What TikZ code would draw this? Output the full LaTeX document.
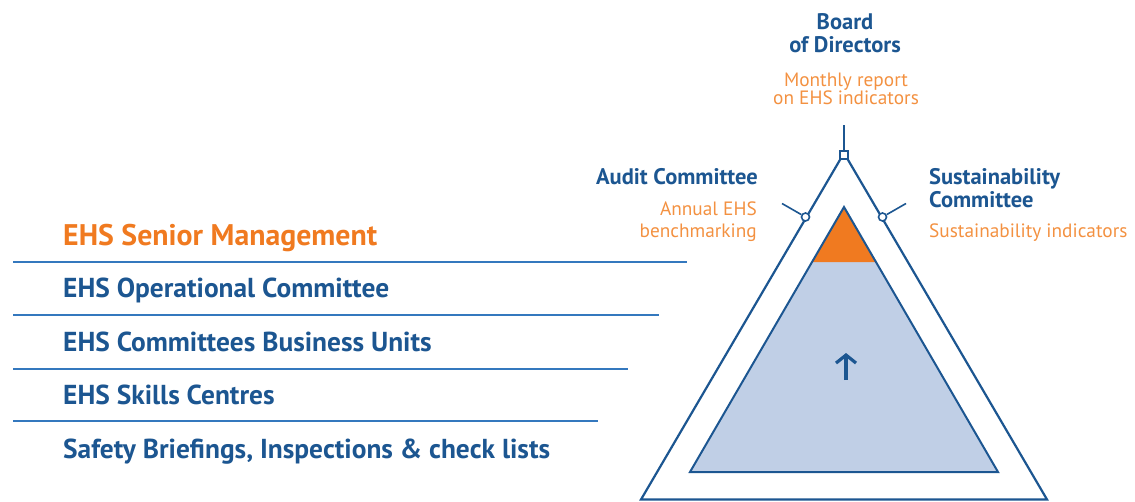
\documentclass[tikz,border=0pt]{standalone}
\usepackage{fontspec}
\setmainfont{PT Sans}
\usetikzlibrary{arrows.meta}
\definecolor{dblue}{RGB}{28,86,145}
\definecolor{lblue}{RGB}{52,120,190}
\definecolor{eorange}{RGB}{240,122,32}
\definecolor{lorange}{RGB}{243,145,65}
\definecolor{tfill}{RGB}{192,207,230}
\begin{document}
\begin{tikzpicture}[x=1pt,y=-1pt,
  head/.style={font=\fontsize{22.5}{26}\selectfont\bfseries, text=dblue, inner sep=0pt},
  note/.style={font=\fontsize{19.3}{22}\selectfont, text=lorange, inner sep=0pt},
  level/.style={font=\fontsize{27.4}{31}\selectfont\bfseries, text=dblue, anchor=base west, inner sep=0pt},
  toplevel/.style={level, font=\fontsize{29.8}{33}\selectfont\bfseries, text=eorange},
  rule/.style={draw=lblue, line width=1.4pt},
  tri/.style={draw=dblue, line width=2.2pt, line join=miter},
  joint/.style={circle, draw=dblue, fill=white, line width=1.6pt, minimum size=8pt, inner sep=0pt},
  sq/.style={rectangle, draw=dblue, fill=white, line width=1.6pt, minimum size=8pt, inner sep=0pt}]
\path[use as bounding box] (0,0) rectangle (1135,501);

% left list
\node[toplevel] (l1) at (63,245) {EHS Senior Management};
\node[level] (l2) at (63,297) {EHS Operational Committee};
\node[level] (l3) at (63,351) {EHS Committees Business Units};
\node[level] (l4) at (63,404) {EHS Skills Centres};
\node[level] (l5) at (63,458) {Safety Briefings, Inspections \& check lists};
\coordinate (r1a) at (13,262); \coordinate (r1b) at (687,262);
\coordinate (r2a) at (13,315); \coordinate (r2b) at (659,315);
\coordinate (r3a) at (13,369); \coordinate (r3b) at (628,369);
\coordinate (r4a) at (13,421); \coordinate (r4b) at (598,421);
\draw[rule] (r1a) -- (r1b);
\draw[rule] (r2a) -- (r2b);
\draw[rule] (r3a) -- (r3b);
\draw[rule] (r4a) -- (r4b);

% triangles
\coordinate (O) at (844,153);
\coordinate (OL) at (641,499.5);
\coordinate (OR) at (1047,499.5);
\coordinate (I) at (844,207);
\coordinate (IL) at (690,472);
\coordinate (IR) at (998,472);
\coordinate (BL) at (812,262);
\coordinate (BR) at (876,262);
\fill[tfill] (I) -- (IL) -- (IR) -- cycle;
\fill[eorange] (I) -- (BL) -- (BR) -- cycle;
\draw[tri, line width=2pt] (I) -- (IL) -- (IR) -- cycle;
\draw[tri] (O) -- (OL) -- (OR) -- cycle;

% arrow
\coordinate (a1) at (846,380);
\coordinate (a2) at (846,353);
\draw[dblue, line width=3.2pt, -{Straight Barb[length=8pt,width=20pt]}] (a1) -- (a2);

% apex connector
\coordinate (top) at (844,125);
\draw[dblue, line width=1.6pt] (O) -- (top);
\node[sq] (apex) at (844,155) {};

% side joints
\node[joint] (cl) at (805.5,217) {};
\node[joint] (cr) at (882.5,217) {};
\coordinate (tl) at (782,203.5);
\coordinate (tr) at (906,203.5);
\draw[dblue, line width=1.6pt] (cl) -- (tl);
\draw[dblue, line width=1.6pt] (cr) -- (tr);

% top labels
\node[head, anchor=base] (b1) at (845,29) {Board};
\node[head, anchor=base] (b2) at (845,52) {of Directors};
\node[note, anchor=base] (m1) at (846,86) {Monthly report};
\node[note, anchor=base] (m2) at (846,104) {on EHS indicators};

\node[head, anchor=base east] (au) at (758,184) {Audit Committee};
\node[note, anchor=base east] (an1) at (757,215) {Annual EHS};
\node[note, anchor=base east] (an2) at (757,237) {benchmarking};

\node[head, anchor=base west] (su1) at (929,184) {Sustainability};
\node[head, anchor=base west] (su2) at (929,207) {Committee};
\node[note, anchor=base west] (si) at (929,237) {Sustainability indicators};
\end{tikzpicture}
\end{document}
